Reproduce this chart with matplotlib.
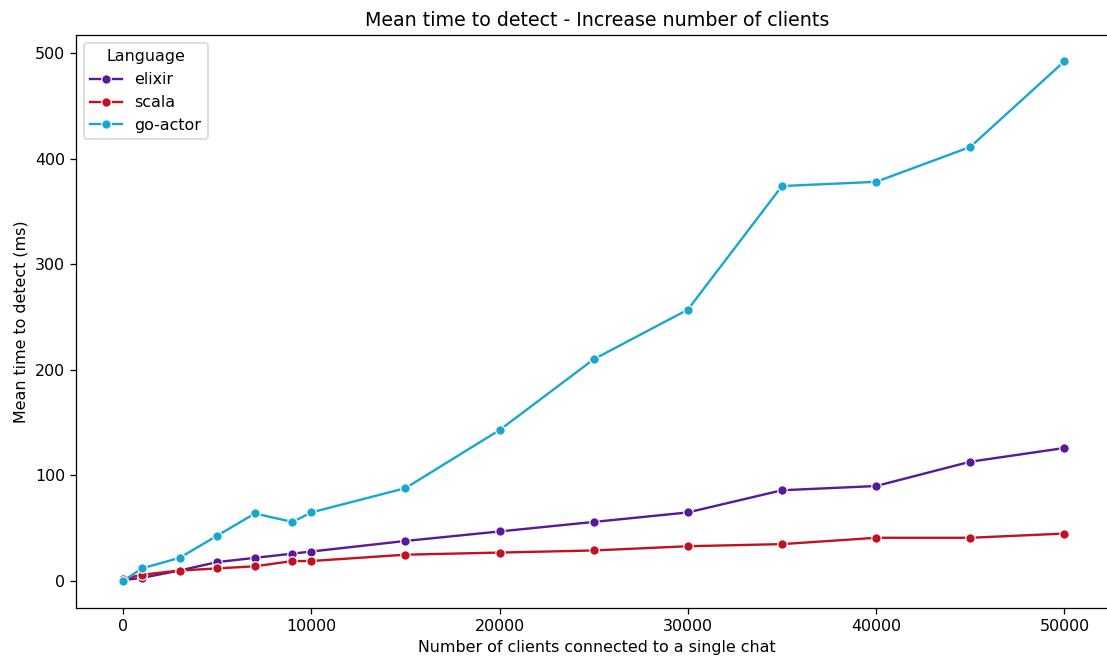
import matplotlib
matplotlib.use("Agg")
import matplotlib.pyplot as plt

clients = [0, 1000, 3000, 5000, 7000, 9000, 10000, 15000, 20000,
           25000, 30000, 35000, 40000, 45000, 50000]
elixir = [1, 3, 10, 18, 22, 26, 28, 38, 47, 56, 65, 86, 90, 113, 126]
scala = [2, 6, 10, 12, 14, 19, 19, 25, 27, 29, 33, 35, 41, 41, 45]
go_actor = [0, 12, 22, 43, 64, 56, 65, 88, 143, 210, 257, 374, 378, 411, 492]

series = [
    ("elixir", elixir, "#5a189a"),
    ("scala", scala, "#c1121f"),
    ("go-actor", go_actor, "#1ba6cf"),
]

# the original looks rendered a bit larger then cropped on the right
DPI = 114
fig = plt.figure(figsize=(1107 / DPI, 657 / DPI), dpi=DPI)
ax = fig.add_axes([76 / 1107, 1 - 607.5 / 657, 1042 / 1107, 572.5 / 657])

for name, vals, color in series:
    ax.plot(clients, vals, color=color, lw=1.5, marker="o", markersize=6,
            markeredgecolor="white", markeredgewidth=0.75, label=name)

ax.set_xticks([0, 10000, 20000, 30000, 40000, 50000])
ax.set_yticks([0, 100, 200, 300, 400, 500])
ax.set_xlim(-2500, 52850)
ax.set_ylim(-25, 517)
ax.set_xlabel("Number of clients connected to a single chat")
ax.set_ylabel("Mean time to detect (ms)")
ax.set_title("Mean time to detect - Increase number of clients")
ax.legend(title="Language", loc="upper left")

fig.savefig("out.png", dpi=DPI)
